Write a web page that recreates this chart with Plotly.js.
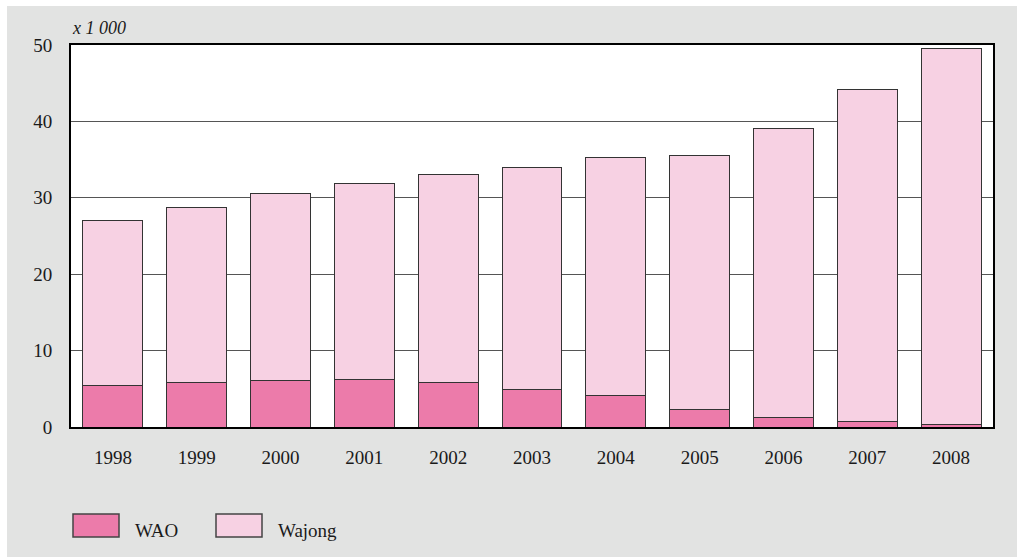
<!DOCTYPE html>
<html>
<head>
<meta charset="utf-8">
<script src="https://cdn.plot.ly/plotly-3.0.1.min.js"></script>
<style>
html,body{margin:0;padding:0;background:#ffffff;}
#chart{position:absolute;left:7px;top:6px;width:1010px;height:551px;}
</style>
</head>
<body>
<div id="chart"></div>
<script>
var years = ['1998','1999','2000','2001','2002','2003','2004','2005','2006','2007','2008'];
var wao = [5.4, 5.8, 6.1, 6.2, 5.8, 4.9, 4.1, 2.3, 1.2, 0.7, 0.3];
var wajong = [21.6, 22.9, 24.5, 25.7, 27.3, 29.1, 31.2, 33.3, 37.9, 43.5, 49.2];
var yTicks = [0, 10, 20, 30, 40, 50];
var seriesNames = ['WAO', 'Wajong'];
var unitLabel = 'x 1 000';

var W = 1010, H = 551;
var M = {l: 64, r: 24, t: 39, b: 130};
var pw = W - M.l - M.r, ph = H - M.t - M.b;
function px(x){ return (x - M.l) / pw; }
function py(y){ return 1 - (y - M.t) / ph; }

var colors = ['#EC7BAA', '#F7D1E3'];
var font = 'Liberation Serif, Times New Roman, serif';
var txt = '#1a1a1a';

var traces = [
  {type:'bar', x: years, y: wao, name: seriesNames[0], marker:{color: colors[0], line:{color:'#333333', width:1}}},
  {type:'bar', x: years, y: wajong, name: seriesNames[1], marker:{color: colors[1], line:{color:'#333333', width:1}}}
];

var shapes = [];
var annotations = [
  {xref:'paper', yref:'paper', x: px(63), y: py(22), xanchor:'left', yanchor:'middle', text: '<i>' + unitLabel + '</i>', showarrow:false, font:{family: font, size:18, color: txt}}
];
var legX = [66, 209];
for (var i = 0; i < 2; i++) {
  shapes.push({type:'rect', xref:'paper', yref:'paper', x0: px(legX[i]), x1: px(legX[i] + 46), y0: py(508), y1: py(531), fillcolor: colors[i], line:{color:'#444', width:1.5}});
  annotations.push({xref:'paper', yref:'paper', x: px(legX[i] + 60), y: py(524), xanchor:'left', yanchor:'middle', text: seriesNames[i], showarrow:false, font:{family: font, size:19, color: txt}});
}

var layout = {
  width: W, height: H,
  margin: M,
  paper_bgcolor: '#E2E3E2',
  plot_bgcolor: '#ffffff',
  barmode: 'stack',
  bargap: 0.285,
  showlegend: false,
  font: {family: font, size: 19, color: txt},
  xaxis: {
    type: 'category',
    showline: true, linecolor: '#000', linewidth: 2, mirror: true,
    showgrid: false, ticks: '', ticklabelstandoff: 12,
    tickfont: {family: font, size: 19, color: txt},
    fixedrange: true
  },
  yaxis: {
    range: [0, 50],
    tickvals: yTicks,
    showline: true, linecolor: '#000', linewidth: 2, mirror: true,
    showgrid: true, gridcolor: '#555', gridwidth: 1,
    zeroline: false, ticks: '', ticklabelstandoff: 13,
    tickfont: {family: font, size: 19, color: txt},
    fixedrange: true
  },
  shapes: shapes,
  annotations: annotations
};

Plotly.newPlot('chart', traces, layout, {displayModeBar: false, staticPlot: true});
</script>
</body>
</html>
